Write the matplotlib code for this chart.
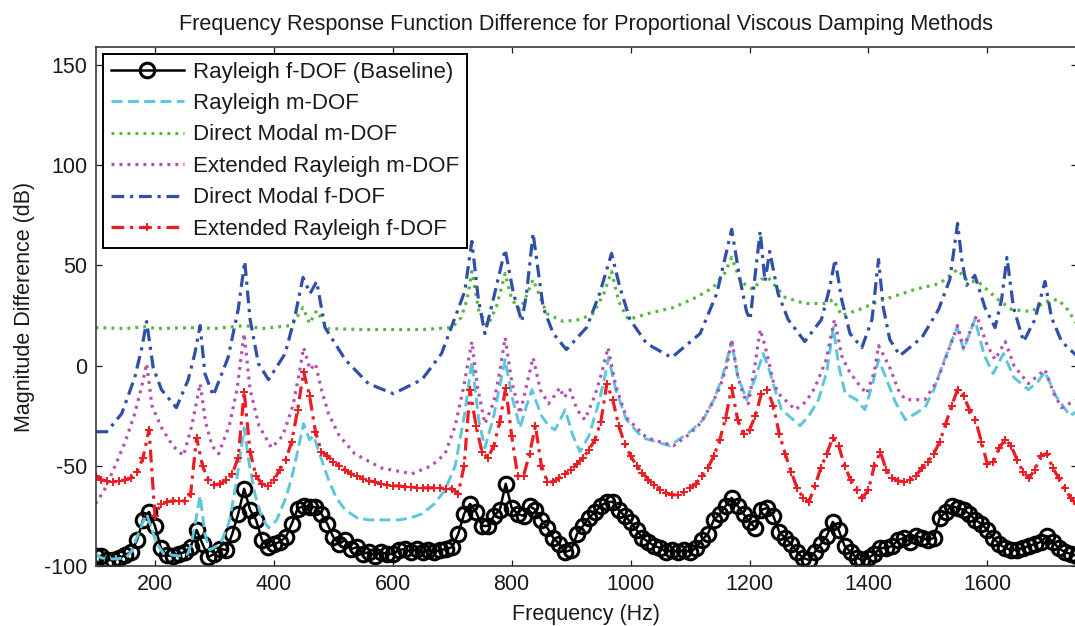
import numpy as np
import matplotlib
matplotlib.use("Agg")
import matplotlib.pyplot as plt

plt.rcParams['font.family'] = ['Liberation Sans', 'DejaVu Sans']
plt.rcParams['axes.unicode_minus'] = False

# ---- data -----------------------------------------------------------------
# common 10 Hz grid for the marker series
grid_freq = np.arange(100, 1751, 10)

baseline_db = [
    -95, -95, -97, -97, -96, -94.5, -93, -87, -77, -73,          # 100-190
    -80, -91, -94.7, -95, -94, -93, -90.6, -82, -89, -95.5,       # 200-290
    -94, -91.5, -92, -84, -74, -61.5, -72, -77, -87, -90.6,       # 300-390
    -89, -88, -85.6, -79, -71.4, -70, -70.6, -70.6, -74, -79,     # 400-490
    -85.6, -89, -87, -91.5, -90.6, -94, -93, -95, -93, -94,       # 500-590
    -94, -92, -91.5, -93, -91.5, -93, -92, -93, -92, -91.5,       # 600-690
    -90.6, -84, -74, -69, -73, -80, -80, -75, -72, -59,           # 700-790
    -71, -74, -75, -70, -72, -77, -81, -86, -89, -93,             # 800-890
    -92, -84, -80, -76, -73, -70, -68, -68, -72, -75,             # 900-990
    -78, -82, -86, -88, -90, -91, -93, -92, -93, -92,             # 1000-1090
    -93, -91, -87, -84, -77, -74, -70, -66, -70, -74,             # 1100-1190
    -78, -81, -72, -71, -75, -83, -86, -89, -93, -96,             # 1200-1290
    -97, -93, -89, -85, -78, -82, -90, -93, -96, -97,             # 1300-1390
    -96, -94, -91, -91, -90, -87, -86, -88, -85, -86,             # 1400-1490
    -87, -86, -76, -73, -70, -71, -72, -74, -77, -79,             # 1500-1590
    -82, -86, -89, -91, -92, -92, -91, -90, -89, -88,             # 1600-1690
    -85, -88, -91, -93, -94, -95,                                 # 1700-1750
]

ext_rayleigh_f_db = [
    -55, -57, -57.5, -58, -57.5, -57, -56, -53, -46, -32,         # 100-190
    -75, -69, -68, -67.5, -67.5, -67.5, -64, -36, -50, -57,       # 200-290
    -59.5, -59, -57, -54, -46, -13, -43, -55, -59, -60,           # 300-390
    -57, -52, -47, -38, -22, -3, -15, -33, -43, -45,              # 400-490
    -48, -50, -52, -54, -55, -56.5, -57.5, -58, -59, -59.5,       # 500-590
    -60, -60, -60.5, -60.5, -61, -61, -61, -61, -61, -61.5,       # 600-690
    -61.5, -64, -50, -12, -30, -43, -46, -40, -28, -11,           # 700-790
    -35, -55, -55, -44, -30, -50, -58, -58, -56, -54,             # 800-890
    -52, -49, -46, -42, -37, -28, -9, -17, -30, -39,              # 900-990
    -45, -50, -53.5, -57, -59.5, -62, -63.5, -64.5, -64.5, -63,   # 1000-1090
    -61, -59, -55, -51, -45, -37, -26, -11, -27, -34,             # 1100-1190
    -32, -25, -14, -12, -20, -34, -44, -53, -61, -66,             # 1200-1290
    -68, -60, -51, -44, -36, -40, -50, -57, -62, -66,             # 1300-1390
    -62, -50, -43, -52, -56, -57.5, -58, -57, -55, -51,           # 1400-1490
    -48, -44, -38, -29, -20, -12, -15, -22, -27, -38,             # 1500-1590
    -49, -48, -41, -37, -40, -47, -53, -56, -52, -45,             # 1600-1690
    -44, -51, -56, -61, -66, -69,                                 # 1700-1750
]

rayleigh_m_freq = [100, 110, 130, 150, 160, 172, 180, 186, 195, 203, 215, 240, 255,
                   262, 270, 276, 284, 292, 310, 325, 337, 350, 358, 368, 380, 391,
                   405, 420, 430, 442, 450, 460, 467, 478, 492, 505, 520, 540, 560,
                   610, 630, 649, 670, 688, 705, 721, 733, 745, 755, 770, 780, 789,
                   800, 814, 825, 834, 850, 862, 873, 890, 903, 915, 930, 945, 955,
                   963, 975, 993, 1020, 1066, 1100, 1122, 1140, 1155, 1170, 1180,
                   1195, 1210, 1223, 1232, 1245, 1254, 1285, 1300, 1316, 1330, 1341,
                   1350, 1361, 1380, 1394, 1408, 1417, 1428, 1445, 1462, 1495, 1510,
                   1523, 1549, 1560, 1579, 1595, 1610, 1627, 1645, 1669, 1685, 1697,
                   1715, 1739, 1750]
rayleigh_m_db = [-94, -96, -96.5, -96, -93, -84, -78, -74, -82, -89, -94, -95, -94,
                 -88, -75, -65, -84, -92, -89, -78, -58, -31, -48, -64, -76, -81,
                 -77, -66, -56, -40, -29, -37, -35, -45, -57, -66, -72, -76, -77,
                 -77, -76, -74, -69, -62, -50, -24, 2, -28, -41, -25, -10, 3,
                 -15, -31, -20, -12, -25, -30, -32, -22, -35, -43, -35, -20, -8,
                 4, -12, -27, -36, -40, -33, -27, -17, -5, 12, -5,
                 -17, -6, 6, -1, -14, -22, -30, -25, -17, -3, 19,
                 0, -14, -17, -22, -8, 3, -5, -18, -27, -21, -12,
                 -1, 19, 8, 23, 5, -4, 6, -6, -12, -8, -3,
                 -15, -25, -23]

modal_m_freq = [100, 150, 186, 200, 276, 300, 351, 380, 430, 449, 460, 472, 490, 550,
                650, 700, 715, 725, 733, 745, 760, 775, 789, 800, 814, 825, 836, 859,
                887, 915, 937, 955, 968, 980, 996, 1030, 1072, 1110, 1139, 1158, 1170,
                1185, 1206, 1220, 1231, 1260, 1293, 1327, 1341, 1355, 1385, 1417, 1478,
                1520, 1550, 1567, 1584, 1618, 1641, 1675, 1697, 1719, 1735, 1750]
modal_m_db = [19, 18.5, 19.5, 18.5, 19, 18.5, 20, 18.5, 20, 29, 21, 27.5, 18.5, 18,
              18, 19, 24, 33, 47, 27, 20, 30, 46, 33, 28, 35, 43, 26,
              22, 23, 26, 36, 47, 32, 23, 26, 29, 34, 39, 46, 54,
              42, 38, 43, 44, 34, 31, 31, 33, 25, 28, 32, 38,
              41, 48, 42, 42, 33, 28, 27, 32, 33, 28, 21]

ext_rayleigh_m_freq = [100, 115, 133, 150, 166, 178, 186, 195, 211, 230, 248, 262, 270,
                       276, 285, 296, 307, 325, 338, 350, 360, 375, 396, 415, 432, 442,
                       450, 461, 470, 480, 492, 510, 536, 580, 632, 665, 688, 705, 719,
                       733, 742, 755, 770, 780, 789, 800, 814, 825, 836, 848, 862, 872,
                       881, 888, 898, 910, 923, 940, 952, 962, 975, 993, 1027, 1072,
                       1100, 1117, 1135, 1150, 1162, 1170, 1180, 1190, 1198, 1208, 1218,
                       1226, 1240, 1249, 1277, 1295, 1310, 1328, 1343, 1355, 1366, 1380,
                       1397, 1410, 1417, 1436, 1450, 1462, 1495, 1515, 1529, 1550, 1560,
                       1582, 1600, 1613, 1630, 1645, 1669, 1685, 1697, 1712, 1725, 1750]
ext_rayleigh_m_db = [-69, -62, -50, -38, -24, -10, 1, -20, -31, -40, -45, -30, -18,
                     -9, -28, -40, -44, -30, -12, 16, -12, -30, -41, -35, -20, -5,
                     9, -2, 1, -12, -24, -35, -44, -51, -54, -50, -44, -30, -11,
                     12, -10, -29, -18, -3, 14, -8, -24, -10, 4, -12, -19, -15,
                     -11, -16, -12, -22, -27, -15, -3, 9, -10, -26, -36, -40,
                     -34, -29, -20, -11, 0, 13, -5, -15, -19, -2, 18,
                     10, -8, -14, -22, -18, -11, 2, 23, 5, -2, -8,
                     -14, -3, 10, -1, -12, -17, -17, -8, 3, 20, 9,
                     25, 10, 3, 12, 0, -9, -5, -2, -14, -21, -17]

modal_f_freq = [100, 119, 144, 166, 178, 186, 197, 211, 236, 256, 267, 276, 284, 298,
                323, 340, 351, 360, 374, 391, 419, 435, 449, 461, 472, 486, 520, 559,
                601, 649, 682, 721, 733, 744, 755, 769, 789, 803, 817, 825, 836, 853,
                870, 892, 926, 948, 968, 982, 999, 1027, 1069, 1117, 1145, 1170, 1184,
                1195, 1201, 1209, 1218, 1226, 1234, 1248, 1265, 1293, 1321, 1335, 1344,
                1355, 1369, 1389, 1406, 1417, 1425, 1436, 1453, 1490, 1518, 1537, 1550,
                1557, 1565, 1579, 1596, 1613, 1624, 1633, 1644, 1661, 1680, 1697, 1708,
                1725, 1750]
modal_f_db = [-33, -33, -24, -6, 9, 22, -1, -12, -21, -7, 6, 20, -4, -15,
              4, 28, 52, 23, 1, -7, 6, 24, 44, 36, 42, 19, 3, -9,
              -14, -7, 6, 37, 62, 33, 16, 33, 58, 36, 22, 36, 66, 29,
              16, 8, 19, 36, 56, 39, 23, 11, 4, 16, 36, 68, 43,
              27, 23, 44, 67, 42, 57, 36, 23, 12, 23, 39, 53,
              33, 16, 9, 23, 53, 29, 13, 5, 14, 28, 43, 71,
              53, 40, 45, 29, 19, 33, 54, 29, 12, 23, 42, 24,
              12, 5]

labels = ['Rayleigh f-DOF (Baseline)', 'Rayleigh m-DOF', 'Direct Modal m-DOF',
          'Extended Rayleigh m-DOF', 'Direct Modal f-DOF', 'Extended Rayleigh f-DOF']
x_ticks = [200, 400, 600, 800, 1000, 1200, 1400, 1600]
y_ticks = [-100, -50, 0, 50, 100, 150]

# ---- figure ---------------------------------------------------------------
W, H = 1075, 626
fig = plt.figure(figsize=(W / 100, H / 100), dpi=100)
ax = fig.add_axes([95.5 / W, (H - 566) / H, 981 / W, 519 / H])

ax.plot(grid_freq, baseline_db, color='black', lw=1.8, marker='o', ms=10.5,
        mfc='none', mec='black', mew=2.2, label=labels[0])
ax.plot(rayleigh_m_freq, rayleigh_m_db, color='#5CC6DA', lw=2.1,
        linestyle=(0, (3.8, 1.8)), label=labels[1])
ax.plot(modal_m_freq, modal_m_db, color='#55B83C', lw=2.3,
        linestyle=(0, (0.9, 1.6)), label=labels[2])
ax.plot(ext_rayleigh_m_freq, ext_rayleigh_m_db, color='#B64DB3', lw=2.3,
        linestyle=(0, (0.9, 1.6)), label=labels[3])
ax.plot(modal_f_freq, modal_f_db, color='#2F4FA8', lw=2.3,
        linestyle=(0, (4.0, 1.8, 1.0, 1.8)), label=labels[4])
ax.plot(grid_freq, ext_rayleigh_f_db, color='#EC1C24', lw=2.3,
        linestyle=(0, (4.0, 1.8, 1.0, 1.8)), marker='+', ms=6, mew=1.4,
        label=labels[5])

ax.set_xlim(100, 1750)
ax.set_ylim(-100, 159)
ax.set_xticks(x_ticks)
ax.set_yticks(y_ticks)
ax.tick_params(direction='in', length=4.5, width=0.9, top=True, right=True,
               labelsize=15.5, colors='#1a1a1a', pad=6)
for sp in ax.spines.values():
    sp.set_color('#3a3a3a')
    sp.set_linewidth(1.2)

ax.set_title('Frequency Response Function Difference for Proportional Viscous Damping Methods',
             fontsize=15.6, color='#1a1a1a', pad=12)
ax.set_xlabel('Frequency (Hz)', fontsize=15.5, color='#1a1a1a', labelpad=6)
ax.set_ylabel('Magnitude Difference (dB)', fontsize=15.5, color='#1a1a1a', labelpad=6)

leg = ax.legend(loc='upper left', bbox_to_anchor=(0.0076, 0.987), borderaxespad=0,
                fontsize=16, frameon=True, fancybox=False, handlelength=3.3,
                handletextpad=0.4, labelspacing=0.47, borderpad=0.35)
leg.get_frame().set_edgecolor('black')
leg.get_frame().set_linewidth(1.4)
leg.get_frame().set_alpha(1)
for t in leg.get_texts():
    t.set_color('#1a1a1a')

fig.savefig('out.png', dpi=100)
